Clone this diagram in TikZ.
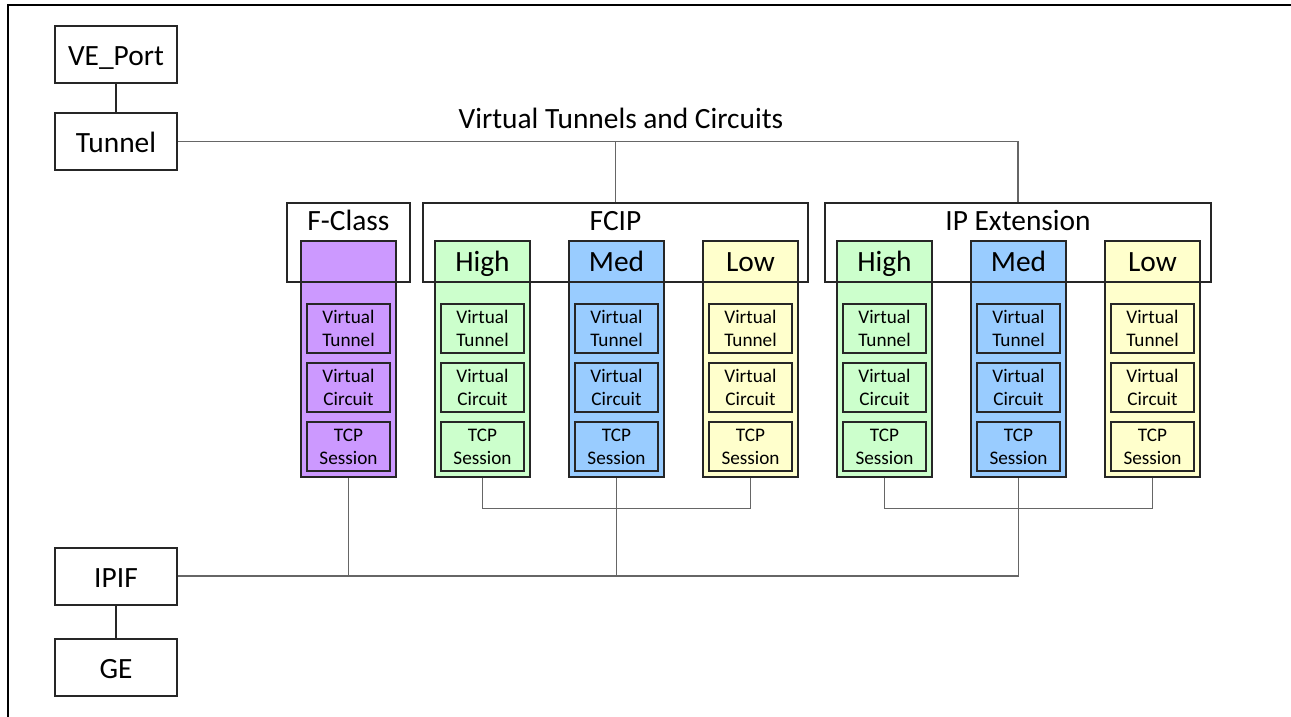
\documentclass[tikz,border=0pt]{standalone}
\usepackage{fontspec}
\setmainfont{Carlito}
\usetikzlibrary{positioning}

\definecolor{fcpurple}{HTML}{CC99FF}
\definecolor{hiGreen}{HTML}{CCFFCC}
\definecolor{medBlue}{HTML}{99CCFF}
\definecolor{loYellow}{HTML}{FFFFCC}
\definecolor{edge}{HTML}{262626}

\tikzset{
  portbox/.style={draw=edge,line width=1pt,minimum width=61pt,minimum height=28.5pt,text height=11pt,text depth=0pt,font=\fontsize{14.7}{17}\selectfont},
  group/.style={draw=edge,line width=0.8pt,minimum height=39.5pt},
  grouptext/.style={inner sep=0pt,text height=10pt,font=\fontsize{14.7}{17}\selectfont},
  column/.style={draw=edge,line width=0.8pt,minimum width=47.5pt,minimum height=118pt},
  layerbox/.style={draw=edge,line width=0.8pt,minimum width=41.5pt,minimum height=24.5pt,inner sep=0pt,align=center,font=\fontsize{9.6}{11.5}\selectfont},
  link/.style={draw=black!60,line width=0.6pt},
  stem/.style={draw=edge,line width=1pt}
}

\begin{document}
\begin{tikzpicture}[x=0.5pt,y=-0.5pt]
\useasboundingbox (0,0) rectangle (1291,717);
\draw[line width=1pt] (8,717) -- (8,5) -- (1291,5);

% Ports
\node[portbox] at (116,54.5) (ve) {VE\_Port};
\node[portbox] at (116,141.5) (tunnel) {Tunnel};
\node[portbox] at (116,576) (ipif) {IPIF};
\node[portbox] at (116,667) (ge) {GE};
\node[grouptext] at (621,119) (title) {Virtual Tunnels and Circuits};

% Columns
\node[column,fill=fcpurple] at (348.5,359) (fclasscol) {};
\node[column,fill=hiGreen] at (482.5,359) (fciphigh) {};
\node[column,fill=medBlue] at (616.5,359) (fcipmed) {};
\node[column,fill=loYellow] at (750.5,359) (fciplow) {};
\node[column,fill=hiGreen] at (884.5,359) (iphigh) {};
\node[column,fill=medBlue] at (1018.5,359) (ipmed) {};
\node[column,fill=loYellow] at (1152.5,359) (iplow) {};

\node[grouptext,below=5.5pt of fciphigh.north] (fciphightext) {High};
\node[grouptext,below=5.5pt of fcipmed.north] (fcipmedtext) {Med};
\node[grouptext,below=5.5pt of fciplow.north] (fciplowtext) {Low};
\node[grouptext,below=5.5pt of iphigh.north] (iphightext) {High};
\node[grouptext,below=5.5pt of ipmed.north] (ipmedtext) {Med};
\node[grouptext,below=5.5pt of iplow.north] (iplowtext) {Low};

% Layers
\node[layerbox,fill=fcpurple] at (348.5,328.5) (fclassvt) {Virtual\\Tunnel};
\node[layerbox,fill=fcpurple,below=4.25pt of fclassvt] (fclassvc) {Virtual\\Circuit};
\node[layerbox,fill=fcpurple,below=4.25pt of fclassvc] (fclasstcp) {TCP\\Session};

\node[layerbox,fill=hiGreen] at (482.5,328.5) (fciphighvt) {Virtual\\Tunnel};
\node[layerbox,fill=hiGreen,below=4.25pt of fciphighvt] (fciphighvc) {Virtual\\Circuit};
\node[layerbox,fill=hiGreen,below=4.25pt of fciphighvc] (fciphightcp) {TCP\\Session};

\node[layerbox,fill=medBlue] at (616.5,328.5) (fcipmedvt) {Virtual\\Tunnel};
\node[layerbox,fill=medBlue,below=4.25pt of fcipmedvt] (fcipmedvc) {Virtual\\Circuit};
\node[layerbox,fill=medBlue,below=4.25pt of fcipmedvc] (fcipmedtcp) {TCP\\Session};

\node[layerbox,fill=loYellow] at (750.5,328.5) (fciplowvt) {Virtual\\Tunnel};
\node[layerbox,fill=loYellow,below=4.25pt of fciplowvt] (fciplowvc) {Virtual\\Circuit};
\node[layerbox,fill=loYellow,below=4.25pt of fciplowvc] (fciplowtcp) {TCP\\Session};

\node[layerbox,fill=hiGreen] at (884.5,328.5) (iphighvt) {Virtual\\Tunnel};
\node[layerbox,fill=hiGreen,below=4.25pt of iphighvt] (iphighvc) {Virtual\\Circuit};
\node[layerbox,fill=hiGreen,below=4.25pt of iphighvc] (iphightcp) {TCP\\Session};

\node[layerbox,fill=medBlue] at (1018.5,328.5) (ipmedvt) {Virtual\\Tunnel};
\node[layerbox,fill=medBlue,below=4.25pt of ipmedvt] (ipmedvc) {Virtual\\Circuit};
\node[layerbox,fill=medBlue,below=4.25pt of ipmedvc] (ipmedtcp) {TCP\\Session};

\node[layerbox,fill=loYellow] at (1152.5,328.5) (iplowvt) {Virtual\\Tunnel};
\node[layerbox,fill=loYellow,below=4.25pt of iplowvt] (iplowvc) {Virtual\\Circuit};
\node[layerbox,fill=loYellow,below=4.25pt of iplowvc] (iplowtcp) {TCP\\Session};

% Groups
\node[group,minimum width=61.5pt] at (348.5,242.5) (fclass) {};
\node[group,minimum width=192.5pt] at (615.5,242.5) (fcip) {};
\node[group,minimum width=193pt] at (1018,242.5) (ipext) {};
\node[grouptext,below=4pt of fclass.north] (fclasstext) {F-Class};
\node[grouptext,below=4pt of fcip.north] (fciptext) {FCIP};
\node[grouptext,below=4pt of ipext.north] (ipexttext) {IP Extension};

% Links
\draw[stem] (ve) -- (tunnel);
\draw[stem] (ipif) -- (ge);
\draw[link] (tunnel.east) -| (ipext.north);
\draw[link] (fcip.north) -- (fcip.north |- tunnel.east);
\draw[link] (fciphigh.south) -- ++(0,31) -| (fciplow.south);
\draw[link] (iphigh.south) -- ++(0,31) -| (iplow.south);
\draw[link] (ipif.east) -| (ipmed.south);
\draw[link] (fclasscol.south) -- (fclasscol.south |- ipif.east);
\draw[link] (fcipmed.south) -- (fcipmed.south |- ipif.east);

\end{tikzpicture}
\end{document}
